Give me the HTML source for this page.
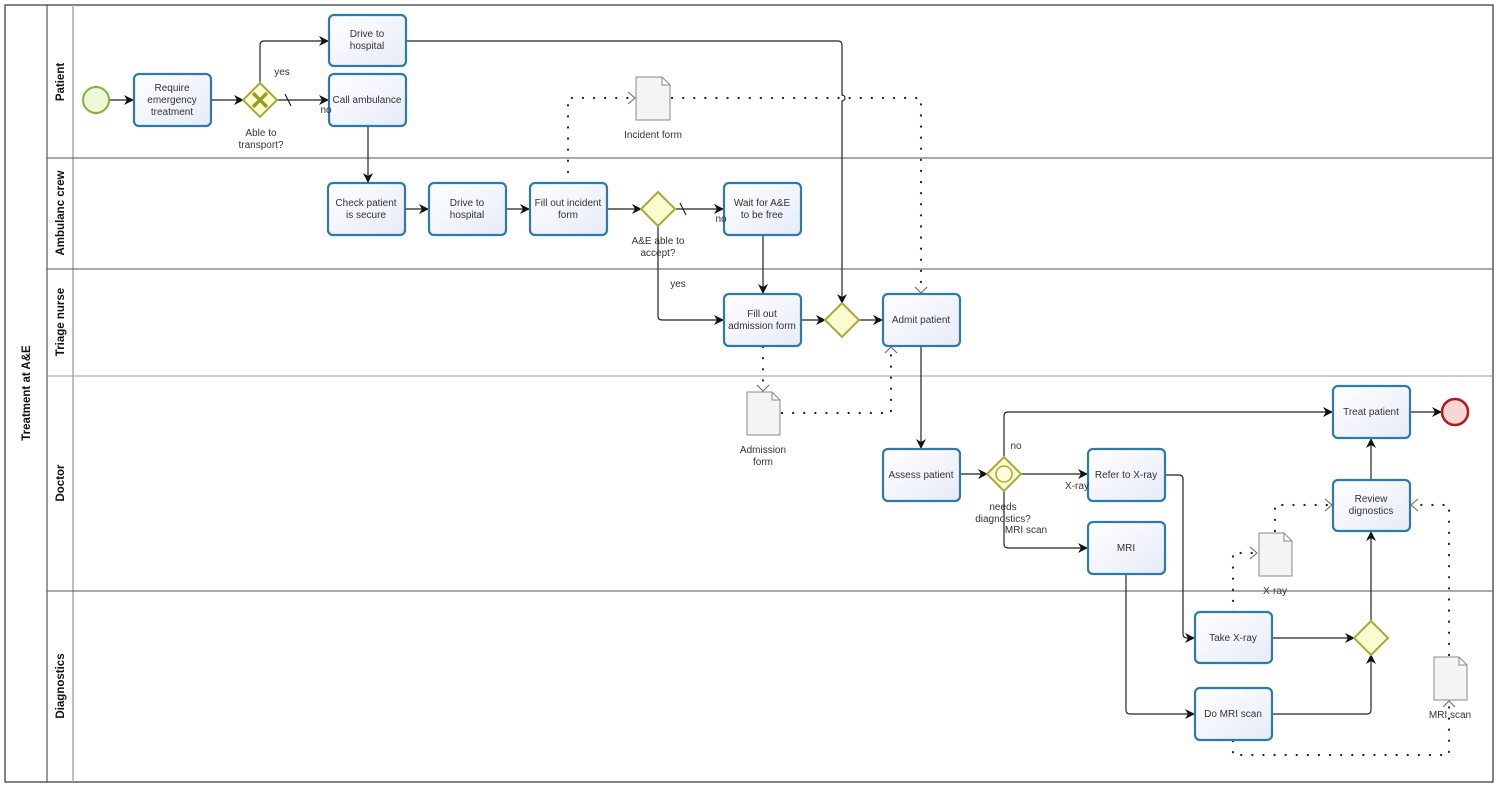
<!DOCTYPE html>
<html><head><meta charset="utf-8"><style>
html,body{margin:0;padding:0;background:#fff;}
svg{display:block;font-family:"Liberation Sans",sans-serif;}
.t{fill:url(#g);stroke:#2e7ba6;stroke-width:2.2;}
.l{fill:none;stroke:#222;stroke-width:1.2;}
.d{fill:none;stroke:#222;stroke-width:2.2;stroke-dasharray:0.1 11;stroke-linecap:round;}
.tx{font-size:10px;fill:#333;text-anchor:middle;}
.gw{fill:#fbfbd0;stroke:#a8a83a;stroke-width:2;}
.doc{fill:#f4f4f4;stroke:#888;stroke-width:1;}
.lh{font-size:11.5px;font-weight:bold;fill:#111;text-anchor:middle;}
</style></head><body>
<svg width="1500" height="787" viewBox="0 0 1500 787">
<defs>
<linearGradient id="g" x1="0" y1="0" x2="1" y2="1"><stop offset="0" stop-color="#ffffff"/><stop offset="1" stop-color="#e6ebf8"/></linearGradient>
<marker id="a" markerWidth="10" markerHeight="10" refX="9" refY="5" orient="auto" markerUnits="userSpaceOnUse"><path d="M0,0 L10,5 L0,10 L3,5 z" fill="#111"/></marker>
<marker id="o" markerWidth="10" markerHeight="12" refX="9" refY="6" orient="auto" markerUnits="userSpaceOnUse"><path d="M1,0 L9,6 L1,12" fill="none" stroke="#666" stroke-width="1"/></marker>
</defs>
<rect x="5" y="5" width="1488" height="777" fill="#fff" stroke="#333" stroke-width="1.2"/>
<line x1="47" y1="5" x2="47" y2="782" stroke="#333"/>
<line x1="73" y1="5" x2="73" y2="782" stroke="#aaa" stroke-width="1.5"/>
<g stroke="#555" stroke-width="1">
<line x1="47" y1="158" x2="1493" y2="158"/>
<line x1="47" y1="269" x2="1493" y2="269"/>
<line x1="47" y1="376" x2="1493" y2="376" stroke="#999"/>
<line x1="47" y1="591" x2="1493" y2="591"/>
</g>
<text class="lh" transform="translate(30,393) rotate(-90)">Treatment at A&amp;E</text>
<text class="lh" transform="translate(64,82) rotate(-90)">Patient</text>
<text class="lh" transform="translate(64,213) rotate(-90)">Ambulanc crew</text>
<text class="lh" transform="translate(64,322) rotate(-90)">Triage nurse</text>
<text class="lh" transform="translate(64,483) rotate(-90)">Doctor</text>
<text class="lh" transform="translate(64,686) rotate(-90)">Diagnostics</text>

<g class="l">
<path d="M109,100 H133" marker-end="url(#a)"/>
<path d="M211,100 H243" marker-end="url(#a)"/>
<path d="M260,83 V45 Q260,41 264,41 H328" marker-end="url(#a)"/>
<path d="M277,100 H328" marker-end="url(#a)"/>
<path d="M285,94 L291,106"/>
<path d="M368,126 V182" marker-end="url(#a)"/>
<path d="M405,209 H428" marker-end="url(#a)"/>
<path d="M506,209 H529" marker-end="url(#a)"/>
<path d="M607,209 H641" marker-end="url(#a)"/>
<path d="M675,209 H723" marker-end="url(#a)"/>
<path d="M680,203 L686,215"/>
<path d="M658,226 V316 Q658,320 662,320 H723" marker-end="url(#a)"/>
<path d="M763,235 V293" marker-end="url(#a)"/>
<path d="M801,320 H825" marker-end="url(#a)"/>
<path d="M406,41 H838 Q842,41 842,45 V95 a3,3 0 0 1 0,6 V303" marker-end="url(#a)"/>
<path d="M859,320 H882" marker-end="url(#a)"/>
<path d="M921,346 V448" marker-end="url(#a)"/>
<path d="M960,474 H987" marker-end="url(#a)"/>
<path d="M1021,474 H1087" marker-end="url(#a)"/>
<path d="M1004,457 V416 Q1004,412 1008,412 H1332" marker-end="url(#a)"/>
<path d="M1004,491 V544 Q1004,548 1008,548 H1087" marker-end="url(#a)"/>
<path d="M1165,475 H1179 Q1183,475 1183,479 V634 Q1183,638 1187,638 H1194" marker-end="url(#a)"/>
<path d="M1126,574 V710 Q1126,714 1130,714 H1194" marker-end="url(#a)"/>
<path d="M1272,638 H1354" marker-end="url(#a)"/>
<path d="M1272,714 H1367 Q1371,714 1371,710 V655" marker-end="url(#a)"/>
<path d="M1371,621 V532" marker-end="url(#a)"/>
<path d="M1371,480 V439" marker-end="url(#a)"/>
<path d="M1410,412 H1441" marker-end="url(#a)"/>
</g>
<g class="d">
<path d="M568,183 V98 H635"/>
<path d="M672,98 H921 V293"/>
<path d="M763,347 V391"/>
<path d="M782,413 H891 V347"/>
<path d="M1233,612 V553 H1257"/>
<path d="M1275,531 V505 H1332"/>
<path d="M1233,741 V755 H1449 V701"/>
<path d="M1449,655 V505 H1411"/>
</g>
<g fill="none" stroke="#666" stroke-width="1">
<path d="M628,92 L635,98 L628,104"/>
<path d="M915,287 L921,293 L927,287"/>
<path d="M757,385 L763,391 L769,385"/>
<path d="M885,353 L891,347 L897,353"/>
<path d="M1250,547 L1257,553 L1250,559"/>
<path d="M1325,499 L1332,505 L1325,511"/>
<path d="M1443,707 L1449,701 L1455,707"/>
<path d="M1418,499 L1411,505 L1418,511"/>
</g>

<g>
<rect class="t" x="134" y="74" width="77" height="52" rx="5"/>
<rect class="t" x="329" y="15" width="77" height="51" rx="5"/>
<rect class="t" x="329" y="74" width="77" height="52" rx="5"/>
<rect class="t" x="328" y="183" width="77" height="52" rx="5"/>
<rect class="t" x="429" y="183" width="77" height="52" rx="5"/>
<rect class="t" x="530" y="183" width="77" height="52" rx="5"/>
<rect class="t" x="724" y="183" width="77" height="52" rx="5"/>
<rect class="t" x="724" y="294" width="77" height="52" rx="5"/>
<rect class="t" x="883" y="294" width="77" height="52" rx="5"/>
<rect class="t" x="883" y="449" width="77" height="52" rx="5"/>
<rect class="t" x="1088" y="449" width="77" height="52" rx="5"/>
<rect class="t" x="1088" y="522" width="77" height="52" rx="5"/>
<rect class="t" x="1333" y="386" width="77" height="52" rx="5"/>
<rect class="t" x="1333" y="480" width="77" height="51" rx="5"/>
<rect class="t" x="1195" y="612" width="77" height="51" rx="5"/>
<rect class="t" x="1195" y="688" width="77" height="52" rx="5"/>
</g>
<g class="tx">
<text x="172" y="91">Require</text><text x="172" y="103">emergency</text><text x="172" y="115">treatment</text>
<text x="367" y="37">Drive to</text><text x="367" y="49">hospital</text>
<text x="367" y="103">Call ambulance</text>
<text x="366" y="206">Check patient</text><text x="366" y="218">is secure</text>
<text x="467" y="206">Drive to</text><text x="467" y="218">hospital</text>
<text x="568" y="206">Fill out incident</text><text x="568" y="218">form</text>
<text x="762" y="206">Wait for A&amp;E</text><text x="762" y="218">to be free</text>
<text x="762" y="317">Fill out</text><text x="762" y="329">admission form</text>
<text x="921" y="323">Admit patient</text>
<text x="921" y="478">Assess patient</text>
<text x="1126" y="478">Refer to X-ray</text>
<text x="1126" y="551">MRI</text>
<text x="1371" y="415">Treat patient</text>
<text x="1371" y="502">Review</text><text x="1371" y="514">dignostics</text>
<text x="1233" y="641">Take X-ray</text>
<text x="1233" y="717">Do MRI scan</text>
</g>

<circle cx="96" cy="100" r="13" fill="#eef8d8" stroke="#7cb342" stroke-width="2"/>
<circle cx="1455" cy="412" r="13" fill="#f7d6d6" stroke="#b31b1b" stroke-width="2.5"/>

<path class="gw" d="M260,83 L277,100 L260,117 L243,100 z"/>
<path d="M253,93 L267,107 M267,93 L253,107" stroke="#9a9a2a" stroke-width="3.5"/>
<path class="gw" d="M658,192 L675,209 L658,226 L641,209 z"/>
<path class="gw" d="M842,303 L859,320 L842,337 L825,320 z"/>
<path class="gw" d="M1004,457 L1021,474 L1004,491 L987,474 z"/>
<circle cx="1004" cy="474" r="8" fill="#fdfde0" stroke="#a8a83a" stroke-width="1.5"/>
<path class="gw" d="M1371,621 L1388,638 L1371,655 L1354,638 z"/>

<path class="doc" d="M636,77 H662 L670,85 V120 H636 z M662,77 V85 H670"/>
<path class="doc" d="M747,392 H772 L780,400 V435 H747 z M772,392 V400 H780"/>
<path class="doc" d="M1259,533 H1284 L1292,541 V576 H1259 z M1284,533 V541 H1292"/>
<path class="doc" d="M1434,657 H1459 L1467,665 V700 H1434 z M1459,657 V665 H1467"/>

<g class="tx">
<text x="282" y="75">yes</text>
<text x="326" y="113">no</text>
<text x="261" y="136">Able to</text><text x="261" y="148">transport?</text>
<text x="721" y="222">no</text>
<text x="658" y="244">A&amp;E able to</text><text x="658" y="256">accept?</text>
<text x="678" y="287">yes</text>
<text x="653" y="138">Incident form</text>
<text x="763" y="453">Admission</text><text x="763" y="465">form</text>
<text x="1016" y="449">no</text>
<text x="1077" y="489">X-ray</text>
<text x="1003" y="510">needs</text><text x="1003" y="522">diagnostics?</text>
<text x="1026" y="533">MRI scan</text>
<text x="1275" y="594">X-ray</text>
<text x="1450" y="718">MRI scan</text>
</g>
</svg>
</body></html>
